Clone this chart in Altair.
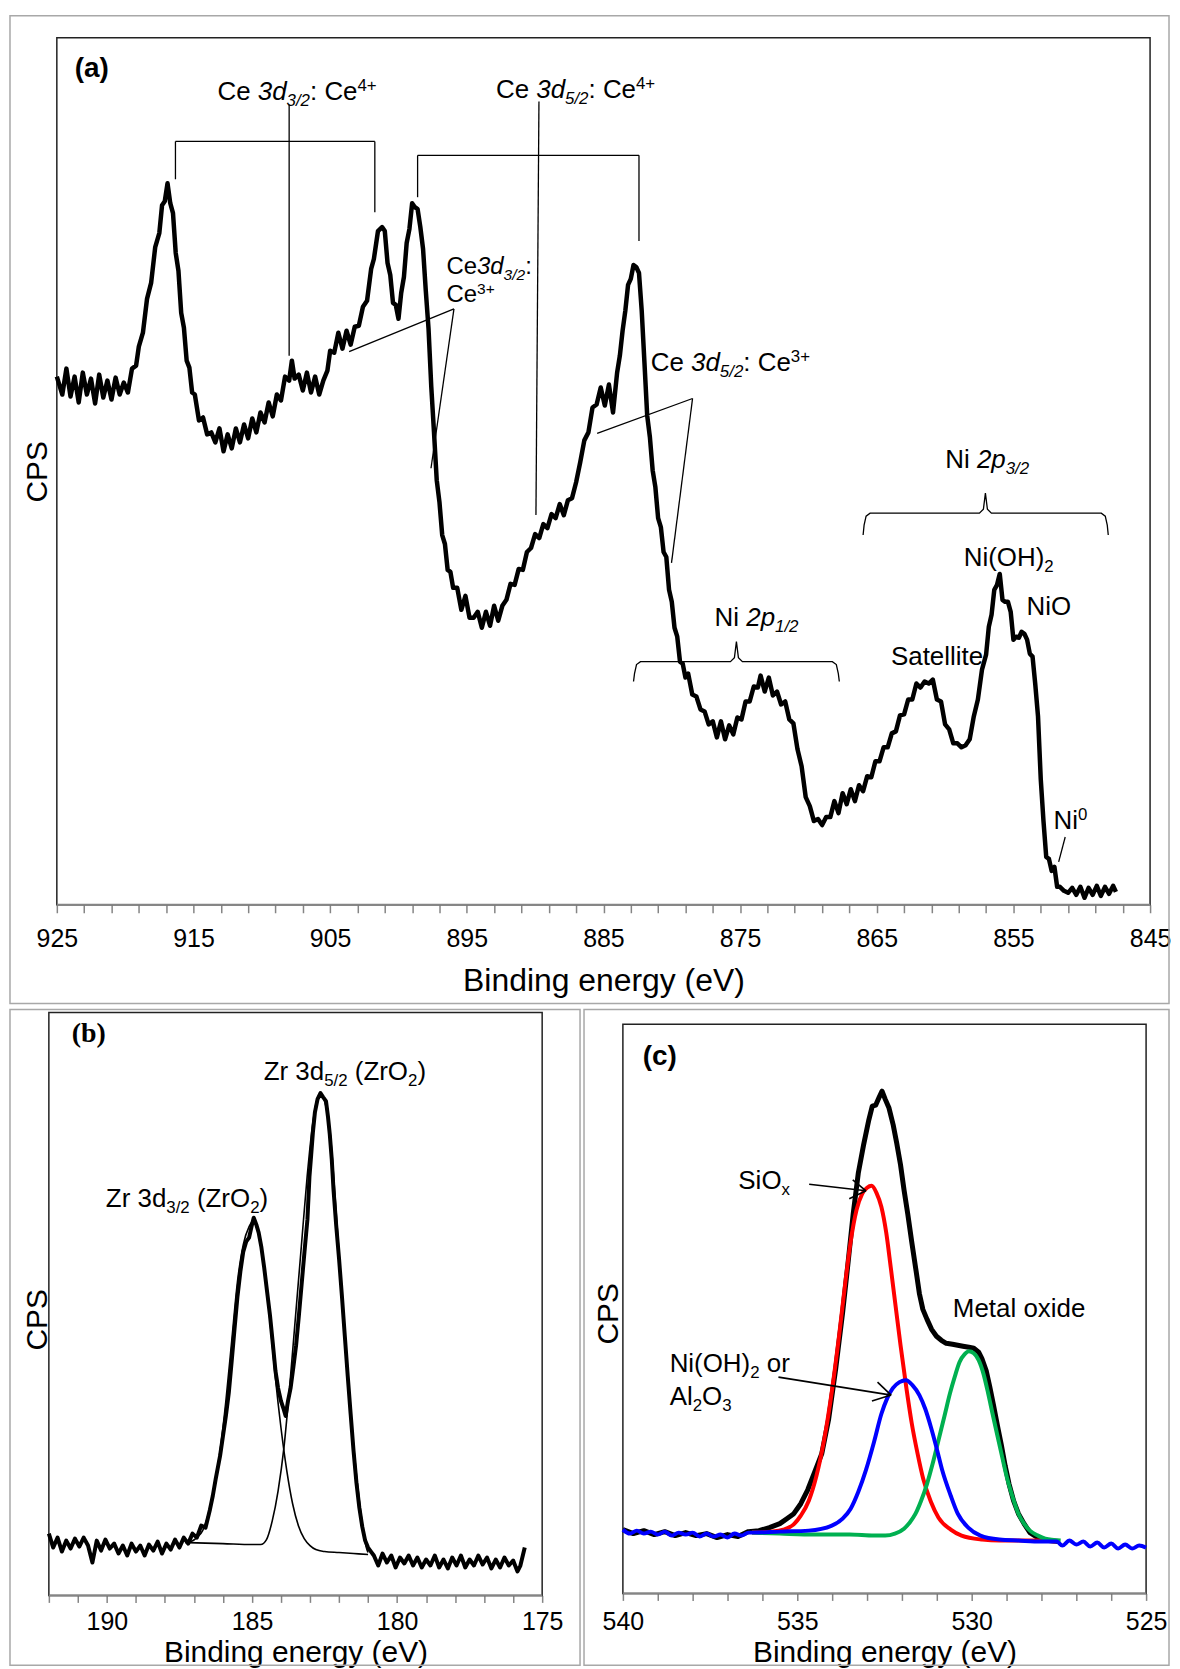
import altair as alt
import pandas as pd

FONT = "Liberation Sans"
SERIF = "Liberation Serif"

# ---------------- (a) Ce 3d / Ni 2p region: (binding energy eV, counts a.u.) ----------------
A_SPECTRUM = [
 (925.0,530),(924.6,512),(924.3,538),(924.0,510),(923.7,530),(923.4,504),(923.1,534),(922.8,512),
 (922.5,528),(922.2,503),(921.9,532),(921.6,509),(921.3,526),(921.0,507),(920.7,529),(920.4,512),
 (920.1,524),(919.8,514),(919.5,538),(919.2,541),(919.0,560),(918.7,574),(918.4,608),(918.1,624),
 (917.8,660),(917.5,674),(917.3,702),(917.1,706),(916.9,724),(916.7,704),(916.5,694),(916.3,654),
 (916.1,636),(915.9,594),(915.7,579),(915.5,546),(915.3,539),(915.1,514),(914.9,512),(914.6,486),
 (914.3,489),(914.0,472),(913.7,474),(913.4,464),(913.1,478),(912.8,455),(912.5,472),(912.2,458),
 (911.9,478),(911.6,464),(911.3,482),(911.0,468),(910.7,488),(910.4,474),(910.1,494),(909.8,484),
 (909.5,504),(909.2,490),(908.9,512),(908.6,506),(908.3,530),(908.0,526),(907.8,546),(907.6,528),
 (907.3,532),(907.0,516),(906.7,534),(906.4,514),(906.1,530),(905.8,512),(905.5,526),(905.2,536),
 (905.0,556),(904.7,554),(904.4,574),(904.1,558),(903.8,576),(903.5,562),(903.2,580),(902.9,581),
 (902.6,600),(902.3,606),(902.0,638),(901.8,648),(901.5,676),(901.2,680),(901.0,676),(900.8,644),
 (900.6,632),(900.4,604),(900.2,602),(900.0,588),(899.8,614),(899.6,630),(899.4,664),(899.2,678),
 (899.0,704),(898.8,700),(898.6,698),(898.4,680),(898.2,658),(898.0,616),(897.8,578),(897.6,520),
 (897.4,474),(897.2,426),(897.0,404),(896.8,371),(896.6,362),(896.4,336),(896.2,334),(896.0,318),
 (895.7,318),(895.4,296),(895.1,310),(894.8,288),(894.5,288),(894.2,294),(893.9,278),(893.6,294),
 (893.3,280),(893.0,300),(892.7,285),(892.4,300),(892.1,306),(891.8,322),(891.5,321),(891.2,337),
 (890.9,336),(890.6,354),(890.3,358),(890.0,372),(889.7,368),(889.4,382),(889.1,378),(888.8,392),
 (888.5,388),(888.2,402),(887.9,391),(887.6,406),(887.3,408),(887.0,424),(886.7,444),(886.4,466),
 (886.1,474),(885.8,499),(885.5,502),(885.2,519),(884.9,501),(884.6,522),(884.3,494),(884.0,534),
 (883.8,551),(883.6,576),(883.4,596),(883.2,622),(883.0,628),(882.8,642),(882.6,640),(882.4,634),
 (882.2,596),(882.0,544),(881.8,491),(881.6,469),(881.4,436),(881.2,419),(881.0,388),(880.8,379),
 (880.6,354),(880.4,349),(880.2,316),(880.0,304),(879.8,278),(879.6,269),(879.4,244),(879.2,242),
 (879.0,228),(878.8,232),(878.5,211),(878.2,209),(877.9,196),(877.6,194),(877.3,181),(877.0,184),
 (876.7,168),(876.4,184),(876.1,166),(875.8,180),(875.5,171),(875.2,188),(874.9,186),(874.6,204),
 (874.3,204),(874.0,219),(873.7,218),(873.5,230),(873.2,214),(872.9,228),(872.6,210),(872.3,214),
 (872.0,201),(871.7,204),(871.4,186),(871.1,182),(870.8,156),(870.5,139),(870.2,108),(869.9,99),
 (869.6,84),(869.3,86),(869.0,80),(868.7,88),(868.4,88),(868.1,104),(867.8,92),(867.5,112),
 (867.2,101),(866.9,116),(866.6,104),(866.3,120),(866.0,114),(865.7,129),(865.4,128),(865.1,144),
 (864.8,144),(864.5,158),(864.2,158),(863.9,172),(863.6,174),(863.3,190),(863.0,191),(862.7,206),
 (862.4,206),(862.1,222),(861.8,218),(861.5,224),(861.2,222),(860.9,226),(860.6,206),(860.3,204),
 (860.0,181),(859.7,176),(859.4,162),(859.1,162),(858.8,158),(858.5,160),(858.2,166),(857.9,189),
 (857.6,206),(857.3,236),(857.0,251),(856.8,279),(856.6,291),(856.4,316),(856.2,321),(856.0,332),
 (855.8,306),(855.6,304),(855.4,304),(855.2,294),(855.0,266),(854.8,269),(854.6,268),(854.4,274),
 (854.2,272),(854.0,266),(853.8,252),(853.6,249),(853.4,221),(853.2,189),(853.0,126),(852.8,84),
 (852.6,48),(852.4,46),(852.2,34),(852.0,38),(851.8,18),(851.6,18),(851.3,14),(851.0,12),
 (850.7,17),(850.4,10),(850.1,18),(849.8,7),(849.5,17),(849.2,10),(848.9,19),(848.6,9),
 (848.3,18),(848.0,11),(847.7,19),(847.5,13),
]

# ---------------- (b) Zr 3d ----------------
B_RAW = [
 (192.0,62),(191.85,48),(191.7,58),(191.55,44),(191.4,55),(191.25,47),(191.1,57),(190.95,49),
 (190.8,58),(190.65,50),(190.5,33),(190.35,55),(190.2,45),(190.05,56),(189.9,47),(189.75,52),
 (189.6,42),(189.45,50),(189.3,40),(189.15,52),(189.0,44),(188.85,50),(188.7,40),(188.55,51),
 (188.4,45),(188.25,54),(188.1,42),(187.95,52),(187.8,46),(187.65,56),(187.5,48),(187.35,58),
 (187.2,52),(187.05,62),(186.9,58),(186.75,70),(186.6,68),(186.45,86),(186.35,100),(186.25,117),
 (186.1,140),(186.0,160),(185.9,180),(185.8,203),(185.7,235),(185.6,268),(185.5,300),(185.4,325),
 (185.3,345),(185.2,355),(185.1,359),(185.0,372),(184.94,379),(184.85,372),(184.77,364),(184.68,350),
 (184.58,329),(184.48,305),(184.38,281),(184.28,252),(184.19,225),(184.1,208),(184.0,195),(183.92,188),
 (183.84,180),(183.76,195),(183.67,208),(183.57,230),(183.48,251),(183.38,282),(183.29,312),(183.19,345),
 (183.09,377),(183.02,420),(182.96,442),(182.9,465),(182.83,485),(182.74,498),(182.64,504),(182.55,500),
 (182.45,496),(182.38,480),(182.32,463),(182.25,437),(182.19,407),(182.1,372),(182.0,338),(181.9,300),
 (181.8,260),(181.7,220),(181.6,182),(181.5,145),(181.4,113),(181.3,88),(181.2,69),(181.1,55),
 (181.0,48),(180.9,44),(180.8,40),(180.65,30),(180.5,42),(180.35,33),(180.2,40),(180.05,28),
 (179.9,38),(179.75,32),(179.6,40),(179.45,30),(179.3,38),(179.15,28),(179.0,36),(178.85,30),
 (178.7,40),(178.55,28),(178.4,36),(178.25,27),(178.1,38),(177.95,30),(177.8,40),(177.65,28),
 (177.5,36),(177.35,30),(177.2,40),(177.05,31),(176.9,38),(176.75,27),(176.6,36),(176.45,28),
 (176.3,38),(176.15,30),(176.0,35),(175.85,24),(175.75,30),(175.6,48),
]
B_FIT_32 = [
 (187.3,53),(187.1,54),(186.9,58),(186.7,65),(186.5,82),(186.3,108),(186.1,145),(185.9,195),
 (185.7,255),(185.5,315),(185.3,352),(185.1,370),(184.95,376),(184.8,368),(184.6,335),(184.4,282),
 (184.2,220),(184.0,168),(183.8,125),(183.6,92),(183.4,70),(183.2,57),(183.0,50),(182.8,46),
 (182.5,44),(182.0,43),(181.5,42),(181.0,41),
]
B_FIT_52 = [
 (187.2,53),(186.0,52),(185.0,51),(184.7,51),(184.5,56),(184.3,75),(184.1,105),(183.9,148),
 (183.7,210),(183.5,280),(183.3,350),(183.1,420),(182.9,475),(182.75,498),(182.62,502),(182.5,496),
 (182.3,462),(182.1,385),(181.9,300),(181.7,220),(181.5,150),(181.3,95),(181.15,62),(181.05,47),
 (181.0,43),
]

# ---------------- (c) O 1s ----------------
C_RAW = [
 (540.0,64),(539.7,60),(539.4,63),(539.1,59),(538.8,62),(538.5,58),(538.2,61),(537.9,58),
 (537.6,60),(537.3,56),(537.0,59),(536.7,57),(536.4,62),(536.1,63),(535.8,66),(535.5,70),
 (535.3,75),(535.1,80),(534.9,90),(534.7,104),(534.5,122),(534.3,140),(534.1,175),(533.9,225),
 (533.7,282),(533.55,330),(533.4,380),(533.25,422),(533.1,450),(532.95,475),(532.85,489),(532.75,490),
 (532.65,498),(532.57,504),(532.48,496),(532.37,487),(532.25,470),(532.15,452),(532.04,430),(531.94,405),
 (531.83,380),(531.72,353),(531.6,325),(531.5,301),(531.4,285),(531.28,275),(531.15,265),(531.01,258),
 (530.87,254),(530.73,251),(530.55,250),(530.4,249),(530.25,248),(530.08,247),(529.94,246),(529.8,242),
 (529.7,235),(529.58,223),(529.48,207),(529.37,188),(529.26,168),(529.15,149),(529.04,128),(528.93,110),
 (528.8,93),(528.66,80),(528.5,70),(528.33,61),(528.15,57),(528.0,54),(527.8,53),(527.5,52),
]
C_SIOX = [
 (536.3,61),(535.76,62),(535.4,64),(535.11,69),(534.9,78),(534.67,93),(534.45,118),(534.23,154),
 (534.0,205),(533.79,262),(533.63,310),(533.47,353),(533.3,385),(533.14,401),(533.0,407),(532.87,409),
 (532.73,402),(532.59,388),(532.45,362),(532.32,327),(532.18,288),(532.04,249),(531.88,208),(531.72,171),
 (531.55,140),(531.39,115),(531.17,92),(530.95,76),(530.6,64),(530.29,58),(529.7,54),(529.2,53),
 (528.1,53),(527.6,52),
]
C_METAL = [
 (536.3,61),(535.5,60),(534.5,59),(533.5,59),(532.8,58),(532.48,58),(532.2,60),(531.94,65),
 (531.78,71),(531.61,80),(531.45,93),(531.28,110),(531.12,130),(530.95,154),(530.78,178),(530.62,201),
 (530.48,218),(530.35,232),(530.2,240),(530.08,243),(529.94,241),(529.8,234),(529.66,220),(529.53,201),
 (529.4,180),(529.26,158),(529.12,136),(528.98,115),(528.82,96),(528.66,80),(528.5,70),(528.33,63),
 (528.1,58),(527.89,55),(527.45,53),
]
C_NIOH = [
 (540.0,64),(539.8,60),(539.6,63),(539.4,60),(539.2,62),(539.0,59),(538.8,62),(538.6,58),
 (538.4,61),(538.2,59),(538.0,61),(537.8,57),(537.6,60),(537.4,57),(537.2,59),(537.0,56),
 (536.8,60),(536.6,58),(536.4,61),(536.3,61),(535.5,62),(534.67,63),(534.01,68),(533.7,75),
 (533.47,85),(533.25,102),(533.03,124),(532.8,152),(532.59,180),(532.42,196),(532.26,206),(532.07,212),
 (531.88,214),(531.7,209),(531.5,199),(531.33,185),(531.17,167),(531.0,145),(530.84,123),(530.6,98),
 (530.4,80),(530.1,66),(529.75,58),(529.2,54),(528.66,53),(528.0,52),(527.56,52),(527.4,48),
 (527.2,53),(527.0,49),(526.8,52),(526.6,47),(526.4,51),(526.2,46),(526.0,50),(525.8,45),
 (525.6,49),(525.4,45),(525.2,48),(525.0,46),
]

A_TICKS = list(range(845, 926, 2))
B_TICKS = list(range(175, 193))
C_TICKS = list(range(525, 541))

# ---------------- panel geometry ----------------
A_W, A_H, A_PPE = 1105, 870, 13.7125
A_DOM = [845, 925 + 8 / A_PPE]
B_W, B_H, B_PPE = 495, 585, 495 / 17.0
B_DOM = [175, 192]
C_W, C_H, C_PPE = 525, 583, 35.0
C_DOM = [525, 540]

W = {' ': 278, 'C': 722, 'e': 556, '3': 556, 'd': 556, '/': 278, '2': 556, ':': 278, '4': 556,
     '+': 584, '5': 556, 'N': 722, 'i': 222, 'p': 556, '1': 556, '(': 333, 'O': 778, 'H': 722,
     ')': 333, 'S': 667, 'a': 556, 't': 278, 'l': 222, '0': 556, 'Z': 611, 'r': 333, 'x': 500,
     'M': 833, 'o': 556, 'A': 667, 's': 500}


def text_width(s, size):
    return sum(W.get(c, 556) for c in s) * size / 1000.0


def rich(segs, ev, base, size, ppe, anchor="left"):
    small = 0.65 * size
    pieces = []
    for t, k in segs:
        fs = size if k in ("n", "i") else small
        pieces.append((t, k, fs, text_width(t, fs)))
    total = sum(p[3] for p in pieces)
    off = 0.0 if anchor == "left" else -total / 2.0
    rows = []
    for t, k, fs, w in pieces:
        shift = 0.24 * size if k in ("sb", "si") else (-0.33 * size if k == "sp" else 0.0)
        lead = len(t) - len(t.lstrip(" "))
        pos = off + lead * 278 * fs / 1000.0
        rows.append({"x": ev - pos / ppe, "y": base - shift, "t": t.strip(" "), "s": fs,
                     "style": "italic" if k in ("i", "si") else "normal"})
        off += w
    return rows


def xaxis(values, expr, tick, pad, title_y, title_size, title_base, title_x=None):
    kw = dict(values=values, labelExpr=expr, title="Binding energy (eV)", domain=False, grid=False,
              ticks=True, tickSize=tick, tickColor="#858585", tickWidth=1.5, labelPadding=pad,
              labelFont=FONT, labelFontSize=25, labelColor="black", labelFlush=False,
              labelOverlap=False, titleFont=FONT, titleFontSize=title_size,
              titleFontWeight="normal", titleColor="black", titleY=title_y,
              titleBaseline=title_base)
    if title_x is not None:
        kw["titleX"] = title_x
    return alt.Axis(**kw)


def yaxis(tx, ty):
    return alt.Axis(title="CPS", labels=False, ticks=False, domain=False, grid=False,
                    titleFont=FONT, titleFontSize=30, titleFontWeight="normal", titleColor="black",
                    titleX=tx, titleY=ty, titleAngle=270, titleBaseline="middle", titleAlign="center")


class Panel:
    def __init__(self, dom, h, xax, yax):
        self.dom, self.h, self.xax, self.yax = dom, h, xax, yax

    def X(self):
        return alt.X("x", type="quantitative", title="Binding energy (eV)",
                     scale=alt.Scale(domain=self.dom, reverse=True, nice=False, zero=False),
                     axis=self.xax)

    def Y(self):
        return alt.Y("y", type="quantitative", title="CPS",
                     scale=alt.Scale(domain=[0, self.h], nice=False, zero=False), axis=self.yax)

    def rect(self, x, x2, y, y2, color, width):
        d = pd.DataFrame([{"x": x, "x2": x2, "y": y, "y2": y2}])
        return alt.Chart(d).mark_rect(fill="transparent", stroke=color, strokeWidth=width).encode(
            x=self.X(), x2="x2", y=self.Y(), y2="y2")

    def rules(self, segs, color="black", width=1.3):
        d = pd.DataFrame(segs, columns=["x", "y", "x2", "y2"])
        return alt.Chart(d).mark_rule(color=color, strokeWidth=width).encode(
            x=self.X(), x2="x2", y=self.Y(), y2="y2")

    def line(self, pairs, color, width, interp="linear"):
        d = pd.DataFrame(pairs, columns=["x", "y"])
        return alt.Chart(d).mark_line(color=color, strokeWidth=width, interpolate=interp,
                                      strokeJoin="round").encode(x=self.X(), y=self.Y())

    def texts(self, rows):
        d = pd.DataFrame(rows)
        out = []
        for st in ("normal", "italic"):
            sub = d[d["style"] == st]
            if len(sub):
                out.append(alt.Chart(sub).mark_text(align="left", baseline="alphabetic", font=FONT,
                                                    fontStyle=st, color="black").encode(
                    x=self.X(), y=self.Y(), text="t:N", size=alt.Size("s:Q", scale=None)))
        return out

    def tag(self, x, y, label, font):
        d = pd.DataFrame([{"x": x, "y": y, "t": label}])
        return alt.Chart(d).mark_text(align="left", baseline="alphabetic", font=font,
                                      fontWeight="bold", fontSize=28, color="black").encode(
            x=self.X(), y=self.Y(), text="t:N")


def brace_points(bid, xl, xr, tip, y_end, y_h, y_tip, ppe):
    k = 1.0 / ppe
    pts = [(xl, y_end), (xl - 1 * k, y_h - 12), (xl - 3 * k, y_h - 3), (xl - 7 * k, y_h),
           (tip + 6 * k, y_h), (tip + 2 * k, y_h + 4), (tip, y_tip), (tip - 2 * k, y_h + 4),
           (tip - 6 * k, y_h), (xr + 7 * k, y_h), (xr + 3 * k, y_h - 3), (xr + 1 * k, y_h - 12),
           (xr, y_end)]
    return [{"id": bid, "o": i, "x": x, "y": y} for i, (x, y) in enumerate(pts)]


# ================= Panel (a) =================
A_RULES = [
    (916.32, 766, 901.73, 766), (916.32, 766, 916.32, 728), (901.73, 766, 901.73, 695),
    (908.0, 803, 908.0, 551),
    (898.60, 752, 882.40, 752), (898.60, 752, 898.60, 710), (882.40, 752, 882.40, 666),
    (889.72, 806, 889.94, 391),
    (895.94, 598, 903.61, 555), (895.94, 598, 897.62, 438),
    (878.48, 508, 885.46, 473), (878.48, 508, 880.02, 343),
    (851.21, 68, 851.69, 43),
]
A_BRACES = (brace_points("p32", 866.0, 848.06, 857.05, 371, 393, 413, A_PPE)
            + brace_points("p12", 882.80, 867.74, 875.27, 224, 244, 264, A_PPE))

a_rows = []
a_rows += rich([("Ce ", "n"), ("3d", "i"), ("3/2", "si"), (": Ce", "n"), ("4+", "sp")],
               907.42, 808, 26, A_PPE, "center")
a_rows += rich([("Ce ", "n"), ("3d", "i"), ("5/2", "si"), (": Ce", "n"), ("4+", "sp")],
               887.04, 810, 26, A_PPE, "center")
a_rows += rich([("Ce", "n"), ("3d", "i"), ("3/2", "si"), (":", "n")], 896.49, 633, 24, A_PPE)
a_rows += rich([("Ce", "n"), ("3+", "sp")], 896.49, 605, 24, A_PPE)
a_rows += rich([("Ce ", "n"), ("3d", "i"), ("5/2", "si"), (": Ce", "n"), ("3+", "sp")],
               881.54, 536, 26, A_PPE)
a_rows += rich([("Ni ", "n"), ("2p", "i"), ("3/2", "si")], 856.92, 438, 26, A_PPE, "center")
a_rows += rich([("Ni(OH)", "n"), ("2", "sb")], 858.64, 340, 26, A_PPE)
a_rows += rich([("NiO", "n")], 854.04, 291, 26, A_PPE)
a_rows += rich([("Satellite", "n")], 863.96, 241, 26, A_PPE)
a_rows += rich([("Ni ", "n"), ("2p", "i"), ("1/2", "si")], 876.87, 280, 26, A_PPE)
a_rows += rich([("Ni", "n"), ("0", "sp")], 852.07, 76, 26, A_PPE)

pa = Panel(A_DOM, A_H,
           xaxis(A_TICKS, "datum.value % 10 == 5 ? datum.label : ''", 8, 14, 76, 32, "middle",
                 title_x=556.5),
           yaxis(-11, 435))
a_layers = [
    pa.rect(925 + 47 / A_PPE, 925 - 1116 / A_PPE, -99, 892, "#a8a8a8", 1.5),
    pa.rect(925, 845, 0, A_H, "#222222", 1.5),
    pa.rules([(925, 0, 845, 0)], color="#858585", width=2),
    pa.line(A_SPECTRUM, "black", 4.5),
    pa.rules(A_RULES, width=1.3),
    alt.Chart(pd.DataFrame(A_BRACES)).mark_line(color="black", strokeWidth=1.3).encode(
        x=pa.X(), y=pa.Y(), detail="id:N", order="o:Q"),
] + pa.texts(a_rows) + [pa.tag(923.69, 831, "(a)", FONT)]
panel_a = alt.layer(*a_layers).properties(width=A_W, height=A_H)

# ================= Panel (b) =================
b_rows = []
b_rows += rich([("Zr 3d", "n"), ("5/2", "sb"), (" (ZrO", "n"), ("2", "sb"), (")", "n")],
               181.80, 517, 26, B_PPE, "center")
b_rows += rich([("Zr 3d", "n"), ("3/2", "sb"), (" (ZrO", "n"), ("2", "sb"), (")", "n")],
               187.24, 390, 26, B_PPE, "center")

pb = Panel(B_DOM, B_H,
           xaxis(B_TICKS, "datum.value % 5 == 0 ? datum.label : ''", 7, 7, 66, 30, "alphabetic"),
           yaxis(-11, 308))
b_layers = [
    pb.rect(192 + 39 / B_PPE, 192 - 533 / B_PPE, -70, 588, "#a8a8a8", 1.5),
    pb.rect(192, 175, 0, B_H, "#222222", 1.5),
    pb.rules([(192, 0, 175, 0)], color="#858585", width=2),
    pb.line(B_RAW, "black", 4),
    pb.line(B_FIT_32, "black", 1.6, "monotone"),
    pb.line(B_FIT_52, "black", 1.6, "monotone"),
] + pb.texts(b_rows) + [pb.tag(191.21, 555, "(b)", SERIF)]
panel_b = alt.layer(*b_layers).properties(width=B_W, height=B_H)

# ================= Panel (c) =================
C_ARROWS = [
    (534.66, 410.5, 533.03, 404), (533.41, 415, 533.03, 404), (533.51, 396, 533.03, 404),
    (535.54, 217, 532.31, 199), (532.70, 212, 532.31, 199), (532.86, 193, 532.31, 199),
]
c_rows = []
c_rows += rich([("SiO", "n"), ("x", "sb")], 536.69, 406, 26, C_PPE)
c_rows += rich([("Metal oxide", "n")], 530.54, 277, 26, C_PPE)
c_rows += rich([("Ni(OH)", "n"), ("2", "sb"), (" or", "n")], 538.66, 222, 26, C_PPE)
c_rows += rich([("Al", "n"), ("2", "sb"), ("O", "n"), ("3", "sb")], 538.66, 189, 26, C_PPE)

pc = Panel(C_DOM, C_H,
           xaxis(C_TICKS, "datum.value % 5 == 0 ? datum.label : ''", 7, 9, 68, 30, "alphabetic"),
           yaxis(-14, 302))
c_layers = [
    pc.rect(540 + 39 / C_PPE, 540 - 548 / C_PPE, -72, 586, "#a8a8a8", 1.5),
    pc.rect(540, 525, 0, 571, "#222222", 1.5),
    pc.rules([(540, 0, 525, 0)], color="#858585", width=2),
    pc.line(C_RAW, "black", 5),
    pc.line(C_SIOX, "#ff0000", 4, "monotone"),
    pc.line(C_METAL, "#00b050", 4, "monotone"),
    pc.line(C_NIOH, "#0000ff", 4, "monotone"),
    pc.rules(C_ARROWS, width=1.6),
] + pc.texts(c_rows) + [pc.tag(539.43, 530, "(c)", FONT)]
panel_c = alt.layer(*c_layers).properties(width=C_W, height=C_H)

bottom = alt.hconcat(panel_b, panel_c, spacing=81, bounds="flush")
chart = alt.vconcat(panel_a, bottom, spacing=108, bounds="flush").properties(
    padding={"left": 0, "top": 3, "right": 0, "bottom": 0}, background="white"
).configure_view(stroke="transparent")

chart.save("out.html", embed_options={"renderer": "svg", "actions": False})
